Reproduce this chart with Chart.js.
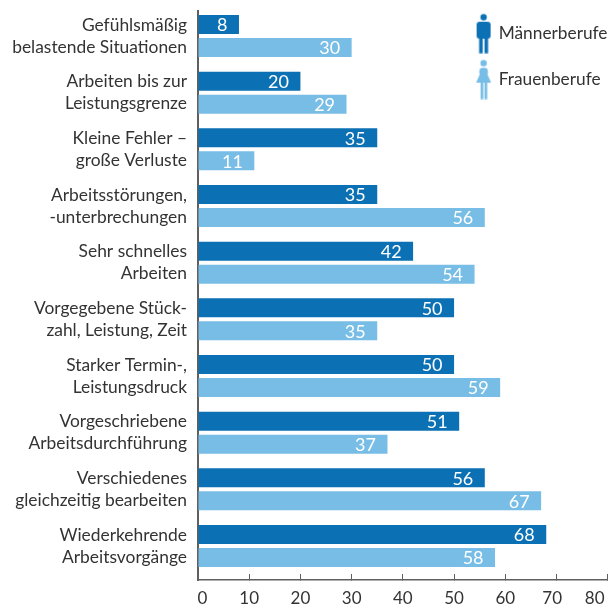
<!DOCTYPE html>
<html><head><meta charset="utf-8">
<style>html,body{margin:0;padding:0;background:#fff}canvas{display:block}</style>
<script src="https://cdn.jsdelivr.net/npm/chart.js@4"></script></head>
<body><canvas id="c" width="609" height="605"></canvas>
<script>
const categories = [
 ["Gefühlsmäßig","belastende Situationen"],
 ["Arbeiten bis zur","Leistungsgrenze"],
 ["Kleine Fehler –","große Verluste"],
 ["Arbeitsstörungen,","-unterbrechungen"],
 ["Sehr schnelles","Arbeiten"],
 ["Vorgegebene Stück-","zahl, Leistung, Zeit"],
 ["Starker Termin-,","Leistungsdruck"],
 ["Vorgeschriebene","Arbeitsdurchführung"],
 ["Verschiedenes","gleichzeitig bearbeiten"],
 ["Wiederkehrende","Arbeitsvorgänge"]
];
const maennerberufe = [8,20,35,35,42,50,50,51,56,68];
const frauenberufe = [30,29,11,56,54,35,59,37,67,58];
const xTicks = [0,10,20,30,40,50,60,70,80];
const DARK="#0c71b4", LIGHT="#78bde6", AXIS="#5f5f5f", TEXT="#333333", FONT="Lato";

function icon(kind,color){
  const c=document.createElement("canvas");c.width=18;c.height=41;
  const g=c.getContext("2d");g.fillStyle=color;g.translate(0,1);
  g.beginPath();g.arc(9,3.5,3.2,0,Math.PI*2);g.fill();
  if(kind==="m"){
    g.beginPath();g.roundRect(2,8,14,17,3);g.fill();
    g.fillRect(4.5,25,3.6,14.5);g.fillRect(9.9,25,3.6,14.5);
  }else{
    g.beginPath();g.moveTo(6,8.5);g.quadraticCurveTo(9,7.5,12,8.5);
    g.quadraticCurveTo(14,10,13,15);g.lineTo(16.5,23);g.lineTo(1.5,23);g.lineTo(5,15);
    g.quadraticCurveTo(4,10,6,8.5);g.fill();
    g.fillRect(6,23,2.7,16.5);g.fillRect(9.9,23,2.7,16.5);
  }
  return c;
}
const icons=[icon("m",DARK),icon("f",LIGHT)];

const valueLabels={id:"valueLabels",afterDatasetsDraw(chart){
  const ctx=chart.ctx;ctx.save();
  ctx.font="18px "+FONT;ctx.fillStyle="#fff";ctx.textAlign="right";ctx.textBaseline="middle";
  chart.data.datasets.forEach((ds,i)=>{
    chart.getDatasetMeta(i).data.forEach((el,j)=>{
      ctx.fillText(String(ds.data[j].x),el.x-11.5,el.y+1);
    });
  });
  ctx.restore();
}};
const placeLegend={id:"placeLegend",afterLayout(chart){
  const l=chart.legend;l.left=448.5;l.top=-4;
}};

new Chart(document.getElementById("c"),{
  type:"bar",
  data:{datasets:[
    {label:"Männerberufe",data:maennerberufe.map((v,i)=>({x:v,y:i})),backgroundColor:DARK,
     categoryPercentage:0.812,barPercentage:0.826},
    {label:"Frauenberufe",data:frauenberufe.map((v,i)=>({x:v,y:i})),backgroundColor:LIGHT,
     categoryPercentage:0.812,barPercentage:0.826}
  ]},
  plugins:[valueLabels,placeLegend],
  options:{
    indexAxis:"y",responsive:false,animation:false,
    layout:{padding:{left:0,right:1.3,top:11,bottom:0}},
    plugins:{
      tooltip:{enabled:false},
      legend:{display:true,position:"chartArea",align:"start",
        labels:{usePointStyle:true,pointStyleWidth:13,boxHeight:17,padding:28.6,color:TEXT,
          font:{family:FONT,size:17.3},
          generateLabels:(chart)=>chart.data.datasets.map((d,i)=>({text:d.label,fontColor:TEXT,pointStyle:icons[i],datasetIndex:i,lineWidth:0}))
        }}
    },
    scales:{
      x:{type:"linear",position:"bottom",min:0,max:80,
        afterBuildTicks:s=>{s.ticks=xTicks.map(v=>({value:v}));},
        afterFit:s=>{s.height=25;s.paddingLeft=0;s.paddingRight=0;},
        grid:{drawOnChartArea:false,drawTicks:true,tickLength:-6,color:AXIS,lineWidth:1},
        border:{display:true,color:AXIS,width:1.5},
        ticks:{color:TEXT,font:{family:FONT,size:17},padding:14.5,maxRotation:0,autoSkip:false,
          callback:v=>v===80?"80\u00a0\u00a0\u00a0\u00a0\u00a0\u00a0":v===70?"70\u00a0\u00a0":v===0?"\u00a0\u00a00":String(v)}
      },
      y:{type:"linear",position:"left",reverse:true,min:-0.441,max:9.6,offset:false,
        afterBuildTicks:s=>{s.ticks=categories.map((_,i)=>({value:i}));},
        afterFit:s=>{s.width=198;s.paddingTop=0;s.paddingBottom=0;},
        grid:{display:false,drawTicks:false,offset:false},
        border:{display:true,color:AXIS,width:2},
        ticks:{color:TEXT,font:{family:FONT,size:17.4,lineHeight:1.27},padding:11,autoSkip:false,
          callback:v=>categories[v]}
      }
    }
  }
});
</script></body></html>
